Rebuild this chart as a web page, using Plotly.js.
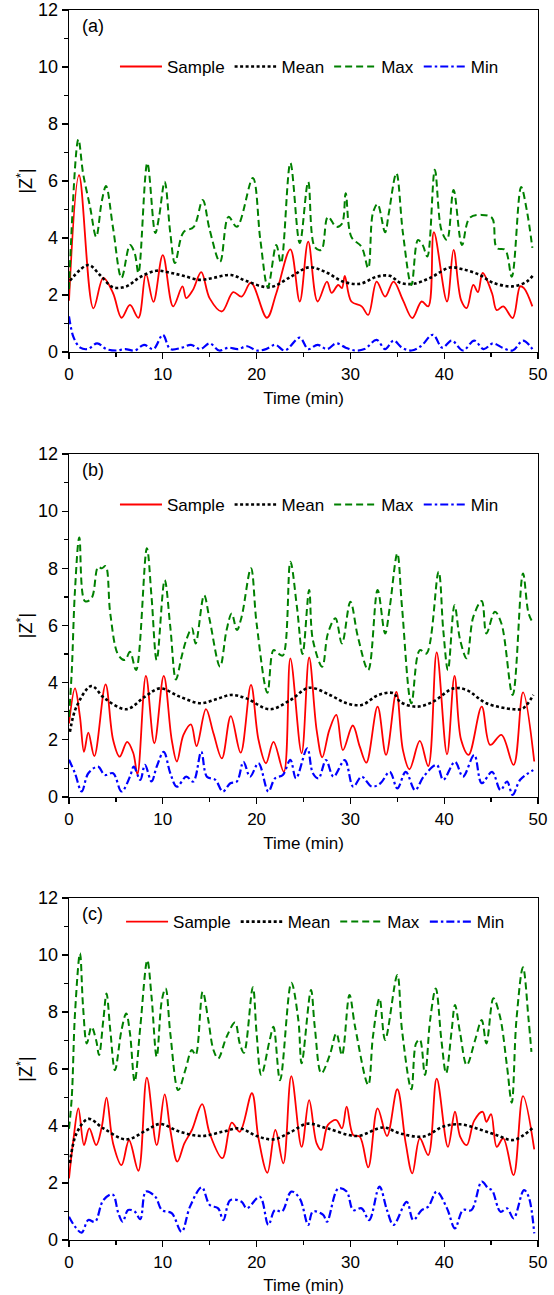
<!DOCTYPE html>
<html><head><meta charset="utf-8">
<script src="https://cdn.plot.ly/plotly-3.0.1.min.js"></script>
<style>html,body{margin:0;padding:0;background:#fff;}#chart{width:554px;height:1295px;}</style>
</head><body><div id="chart"></div>
<script>
const seriesNames = ['Sample', 'Mean', 'Max', 'Min'];
const panelLabels = ['(a)', '(b)', '(c)'];
const xTitle = 'Time (min)';
const yTitle = '|Z<sup>*</sup>|';

// ---- panel (a)
const aSampleX = [0,1.07,2.6,3.66,4.7,5.6,6.5,7.4,8.2,9.0,10.0,11.1,12.1,12.5,13.2,14.1,15.0,16.3,17.5,18.4,19.4,21.1,22.1,23.6,24.6,25.5,26.5,27.5,28.0,28.7,29.1,29.4,30.1,31.2,31.9,32.8,33.7,34.6,35.6,36.6,37.6,38.3,38.9,40.3,41.0,41.8,42.4,43.1,43.6,44.1,45.1,45.6,46.3,47.3,48.1,48.5,49.4];
const aSampleY = [1.8,6.2,1.53,2.6,2.06,1.2,1.65,1.2,2.74,1.76,3.4,1.6,2.3,1.89,2.17,2.8,1.88,1.42,2.1,1.94,2.43,1.2,2.06,3.6,1.77,3.87,1.77,2.47,2.07,2.35,2.24,2.67,1.77,1.6,1.3,2.47,1.94,2.47,1.82,1.19,1.77,1.6,4.2,1.77,3.58,1.82,1.54,2.35,2.1,2.77,2.06,1.47,1.6,1.19,2.3,2.24,1.6];
const aMeanX = [0.1,2.06,3.3,4.7,6.1,7.6,9.3,10.8,12.2,14.0,15.4,17.3,18.9,21.4,23.6,25.6,27.5,29.2,31.0,32.8,34.2,35.3,36.7,38.5,40.6,42.0,43.8,45.2,47.3,48.8,49.5];
const aMeanY = [2.5,3.05,2.7,2.27,2.3,2.63,2.85,2.78,2.67,2.53,2.6,2.7,2.49,2.27,2.63,2.97,2.78,2.47,2.39,2.64,2.67,2.43,2.39,2.6,2.96,2.9,2.7,2.43,2.3,2.47,2.7];
const aMaxX = [0,1.0,1.5,2.24,2.9,3.5,3.95,4.7,5.6,6.5,7.0,7.4,8.35,9.2,9.6,10.2,10.8,11.3,12.2,13.3,14.25,15.0,16.1,17.0,17.9,19.6,20.4,21.2,22.1,22.6,23.6,24.6,25.5,26.2,26.9,27.6,28.5,29.1,29.5,30.1,31.2,31.9,32.4,32.9,33.7,34.1,34.9,35.6,36.5,37.2,37.7,38.2,39.0,39.7,40.3,41.0,41.9,42.7,44.0,45.1,45.6,46.5,47.2,48.2,48.8,49.4];
const aMaxY = [2.2,7.46,6.27,5.1,4.04,5.3,5.82,4.34,2.6,3.75,3.47,2.77,6.63,4.17,4.74,5.97,4.17,3.12,4.2,4.39,5.33,4.28,3.16,4.74,4.39,6.1,3.93,2.28,3.75,3.12,6.63,3.82,5.97,3.68,3.58,4.74,4.39,4.5,5.57,4.04,3.68,2.94,4.88,5.19,4.2,4.88,6.27,4.17,2.35,3.93,3.75,3.35,6.39,4.28,3.93,5.68,3.75,4.7,4.81,4.7,3.65,3.58,2.64,5.79,4.98,3.65];
const aMinX = [0,0.5,1.2,2,3,4,5,6,7,8,9,10,10.8,12,13,14,15,16,17,18,19,20,21,22,23,24.6,25.5,26.5,27.5,28.5,29.5,30.5,31.5,32.8,33.7,34.6,35.5,36.5,37.5,38.8,39.8,40.8,42,43.2,44.2,45.2,46.2,47.3,48.4,49.4];
const aMinY = [1.25,0.5,0.15,0.1,0.3,0.1,0.05,0.1,0.05,0.25,0.1,0.6,0.1,0.15,0.25,0.1,0.3,0.05,0.15,0.1,0.2,0.05,0.1,0.25,0.05,0.5,0.1,0.25,0.1,0.3,0.15,0.05,0.1,0.42,0.1,0.4,0.15,0.05,0.2,0.6,0.15,0.4,0.05,0.4,0.1,0.3,0.15,0.05,0.4,0.1];

// ---- panel (b)
const bSampleX = [0,0.64,1.17,1.6,2.06,2.7,3.9,4.7,5.4,6.2,6.85,7.3,8.2,9.1,10.1,10.95,11.5,12.2,13.0,13.6,14.6,15.4,16.3,17.25,18.3,19.4,20.2,21.0,21.8,22.9,23.6,24.8,25.6,26.4,27.0,27.75,28.5,29.2,30.25,31.0,31.7,32.9,33.8,34.9,35.6,36.3,37.4,38.3,39.2,40.3,41.1,41.8,42.6,44.0,44.9,46.1,47.4,48.4,49.6];
const bSampleY = [2.57,3.8,2.8,1.58,2.25,1.43,3.94,2.0,1.41,1.93,1.54,0.8,4.24,1.88,4.24,2.0,1.24,2.17,2.54,1.78,3.07,2.23,1.35,2.83,1.55,3.92,2.0,1.18,1.93,0.88,4.85,1.53,4.88,2.34,1.39,2.34,2.87,1.64,2.5,1.76,1.2,3.16,1.47,3.68,1.64,0.97,1.96,1.08,5.06,1.49,4.24,2.0,1.47,3.16,1.82,2.17,1.12,3.66,1.24];
const bMeanX = [0.1,0.8,2.4,3.8,6.1,8.1,9.7,11.8,14.0,15.7,17.3,18.9,21.4,23.6,25.6,27.8,29.6,31.2,33.0,34.6,35.3,37.1,38.8,41.0,42.4,44.5,47.4,48.4,49.5];
const bMeanY = [2.28,3.16,3.88,3.45,3.07,3.51,3.8,3.51,3.28,3.42,3.57,3.45,3.07,3.39,3.82,3.57,3.28,3.22,3.57,3.63,3.33,3.16,3.33,3.8,3.74,3.28,3.07,3.1,3.57];
const bMaxX = [0,0.3,0.64,1.1,1.7,2.4,3.1,3.5,3.9,4.4,5.25,5.97,6.5,7.15,8.3,8.8,9.35,10.2,10.8,11.4,12.0,12.5,13.1,13.5,14.4,15.0,16.1,16.8,17.35,17.9,18.4,19.4,20.0,21.15,21.8,22.3,22.8,23.6,24.3,24.9,25.6,26.0,27.0,27.6,28.4,29.1,30.0,30.8,31.9,32.9,33.7,34.2,35.0,35.5,36.5,37.4,38.1,39.4,39.9,40.4,41.1,41.7,42.4,43.1,44.0,44.5,45.4,46.1,47.3,48.4,49.0,49.5];
const bMaxY = [2.8,4.44,7.24,9.08,6.85,6.95,8.05,8.0,8.08,6.42,4.97,4.79,5.08,4.44,8.7,7.0,4.79,7.59,5.95,4.11,4.9,5.49,5.9,5.37,7.06,6.19,4.56,5.84,6.42,5.84,6.3,8.0,6.07,3.65,5.14,5.02,4.95,8.23,6.65,5.0,7.24,5.49,4.56,5.72,6.25,5.37,6.83,5.6,4.44,7.24,5.72,6.65,8.52,6.65,3.28,5.14,5.02,7.88,5.84,4.44,6.71,5.49,4.85,6.3,6.86,5.72,6.48,6.07,3.57,7.82,6.42,6.07];
const bMinX = [0,0.64,1.35,2.06,3.1,3.8,4.7,5.6,6.5,6.9,7.6,8.1,8.8,9.35,10.1,10.8,11.5,12.5,13.25,14.1,14.7,15.6,16.4,17.2,17.9,18.6,19.3,20.2,21.25,21.96,22.8,23.6,24.2,25.4,26.0,26.6,27.4,28.2,29.4,30.3,31.2,32.3,33.2,34.2,35.0,35.9,36.9,37.8,39.2,39.9,41.15,42.0,43.2,44.0,45.1,46.0,46.7,47.3,48.1,49.5];
const bMinY = [1.3,0.83,0.19,0.83,1.06,0.77,0.83,0.19,0.71,1.06,0.6,1.12,0.54,1.06,1.58,0.83,0.36,0.71,0.54,1.58,0.71,0.6,0.19,0.48,0.54,1.23,0.71,1.18,0.19,0.65,0.77,1.3,0.65,1.7,0.83,0.65,1.29,0.71,1.29,0.36,0.71,0.36,0.48,0.88,0.3,0.88,0.24,0.71,1.12,0.6,1.23,0.71,1.47,0.48,0.88,0.24,0.54,0.07,0.6,0.94];

// ---- panel (c)
const cSampleX = [0,0.46,1.0,1.6,2.16,2.9,3.5,4.0,4.7,5.6,6.4,7.4,8.3,9.35,10.2,10.8,11.55,12.3,13.1,14.2,15.0,16.35,17.35,18.2,19.5,20.2,21.15,22.0,22.85,23.7,24.8,25.6,26.4,26.9,27.6,28.5,29.1,29.6,30.3,31.0,31.9,32.9,33.9,35.0,35.9,36.6,37.4,38.3,39.2,40.4,41.15,41.7,42.4,43.2,44.1,44.5,45.0,45.6,46.3,47.4,48.4,49.6];
const cSampleY = [2.16,3.5,4.62,3.33,3.92,3.33,3.98,5.0,3.39,2.63,3.5,2.43,5.7,3.33,5.11,3.86,2.75,3.39,3.86,4.77,3.74,2.87,4.12,3.8,5.15,3.57,2.36,3.86,2.69,5.75,3.27,4.91,3.39,3.16,4.04,4.21,3.92,4.68,3.68,3.63,2.55,4.62,3.65,5.29,3.39,2.34,3.57,2.98,5.66,3.27,4.5,3.63,3.33,4.19,4.5,4.15,4.42,3.27,3.57,2.28,5.05,3.18];
const cMeanX = [0.1,0.8,2.06,3.66,6.1,8.3,9.7,11.8,14.1,16.4,18.2,20.0,21.8,23.6,25.4,27.5,30.7,33.5,35.3,37.8,39.9,41.7,43.8,45.6,47.4,49.6];
const cMeanY = [2.7,3.74,4.25,3.92,3.53,3.86,4.07,3.8,3.65,3.8,3.92,3.65,3.53,3.78,4.08,3.92,3.65,3.95,3.74,3.63,3.98,4.06,3.88,3.68,3.51,3.98];
const cMaxX = [0,0.3,0.64,1.17,1.5,1.9,2.4,2.9,3.2,3.66,4.0,4.4,4.9,5.6,6.1,6.5,7.0,7.6,8.35,8.8,9.35,9.9,10.3,10.8,11.65,12.4,13.1,13.5,14.25,14.85,15.4,15.9,16.8,17.7,18.2,18.65,19.6,20.0,20.5,21.4,21.8,22.5,23.7,24.45,24.8,25.8,26.2,26.9,27.8,28.5,29.1,29.9,30.5,31.9,32.4,33.1,33.7,35.0,35.5,36.5,37.0,37.4,37.95,38.5,39.1,39.7,40.2,40.8,41.15,41.7,42.4,43.3,44.0,44.5,45.25,45.95,46.7,47.2,47.7,48.4,49.0,49.3];
const cMaxY = [3.9,5.03,7.95,10.06,8.18,6.9,7.48,7.0,6.49,7.72,8.65,7.37,5.96,7.37,7.95,7.25,5.56,7.48,9.82,8.54,6.43,8.42,8.83,7.25,5.26,5.96,6.67,6.49,8.71,7.72,6.67,6.37,7.13,7.63,6.9,6.57,8.87,7.25,5.79,7.02,7.48,5.61,9.03,7.72,6.2,8.77,7.48,5.85,6.49,7.25,6.49,8.6,7.48,5.44,7.13,8.48,7.02,9.3,7.37,5.29,6.9,7.04,5.79,7.72,8.83,7.02,5.85,7.37,8.25,7.25,6.14,7.02,7.72,6.9,8.48,7.84,6.08,4.82,7.72,9.57,7.72,6.6];
const cMinX = [0,0.64,1.35,2.06,2.77,3.66,4.65,5.26,5.72,6.3,7.0,7.6,8.2,9.2,9.9,10.95,12.0,12.9,14.15,15.0,15.9,16.45,17.2,18.4,18.95,20.35,21.25,21.96,22.7,23.7,24.6,25.5,26.0,27.1,27.5,28.7,29.6,30.3,31.2,32.0,33.1,33.9,34.6,36.0,36.7,37.6,38.3,39.2,40.3,41.15,42.0,42.9,44.0,44.7,45.1,46.0,46.7,47.4,48.5,49.0,49.6];
const cMinY = [0.82,0.47,0.26,0.7,0.64,1.4,1.6,0.94,0.64,1.05,1.0,0.73,1.7,1.52,1.05,0.94,0.29,1.17,1.85,1.23,1.11,0.7,1.4,1.34,1.11,1.52,0.53,1.05,1.0,1.7,1.46,0.53,1.0,0.88,0.64,1.81,1.7,1.05,1.11,0.7,1.87,1.05,0.53,1.34,0.7,1.05,1.17,1.7,1.11,0.41,1.05,1.05,2.05,1.81,1.75,0.99,1.11,0.76,1.75,1.52,0.23];

const panels = [
  [[aSampleX,aSampleY],[aMeanX,aMeanY],[aMaxX,aMaxY],[aMinX,aMinY]],
  [[bSampleX,bSampleY],[bMeanX,bMeanY],[bMaxX,bMaxY],[bMinX,bMinY]],
  [[cSampleX,cSampleY],[cMeanX,cMeanY],[cMaxX,cMaxY],[cMinX,cMinY]]
];

const styles = [
  {color:'#ff0000', width:1.8, dash:'solid'},
  {color:'#000000', width:2.6, dash:'3px,2.5px'},
  {color:'#008000', width:2.0, dash:'7px,4px'},
  {color:'#0000ff', width:2.2, dash:'8px,3px,2.5px,3px'}
];

const FONT = 'Arial, "Liberation Sans", sans-serif';
const traces = [];
const suffix = ['', '2', '3'];
const legendIds = ['legend', 'legend2', 'legend3'];
panels.forEach((series, p) => {
  series.forEach((s, i) => {
    traces.push({
      type:'scatter', mode:'lines', x:s[0], y:s[1], name:seriesNames[i],
      xaxis:'x'+suffix[p], yaxis:'y'+suffix[p], legend:legendIds[p],
      line:Object.assign({shape:'spline', smoothing:1}, styles[i]),
      showlegend:true, hoverinfo:'skip'
    });
  });
});

const domains = [[0.722, 1], [0.3602, 0.639], [0, 0.278]];
const legendY = [0.9537, 0.5976, 0.2585];
const legendX = [0.098, 0.098, 0.111];

function xAxis(p) {
  return {
    domain:[0,1], anchor:'y'+suffix[p], range:[0,50], tick0:0, dtick:10,
    ticks:'outside', ticklen:6, tickwidth:1.3, tickcolor:'#000',
    showline:true, linecolor:'#000', linewidth:1.3, mirror:true,
    showgrid:false, zeroline:false,
    tickfont:{family:FONT, size:17, color:'#000'},
    minor:{dtick:5, tick0:0, ticks:'outside', ticklen:4, tickwidth:1.3, tickcolor:'#000', showgrid:false},
    title:{text:xTitle, font:{family:FONT, size:17, color:'#000'}, standoff:9}
  };
}
function yAxis(p) {
  return {
    domain:domains[p], anchor:'x'+suffix[p], range:[0,12], tick0:0, dtick:2,
    ticks:'outside', ticklen:6, tickwidth:1.3, tickcolor:'#000',
    showline:true, linecolor:'#000', linewidth:1.3, mirror:true,
    showgrid:false, zeroline:false,
    tickfont:{family:FONT, size:18, color:'#000'},
    minor:{dtick:1, tick0:0, ticks:'outside', ticklen:4, tickwidth:1.3, tickcolor:'#000', showgrid:false},
    title:{text:yTitle, font:{family:FONT, size:18, color:'#000'}, standoff:0}
  };
}

const layout = {
  width:554, height:1295,
  margin:{l:69, r:16, t:10, b:55},
  paper_bgcolor:'#fff', plot_bgcolor:'#fff',
  font:{family:FONT, color:'#000'},
  annotations:[]
};
for (let p = 0; p < 3; p++) {
  layout['xaxis'+suffix[p]] = xAxis(p);
  layout['yaxis'+suffix[p]] = yAxis(p);
  layout[legendIds[p]] = {
    orientation:'h', x:legendX[p], y:legendY[p], xanchor:'left', yanchor:'middle',
    xref:'paper', yref:'paper', bgcolor:'rgba(0,0,0,0)', borderwidth:0,
    font:{family:FONT, size:17, color:'#000'}, itemwidth:42
  };
  layout.annotations.push({
    text:panelLabels[p], xref:'x'+suffix[p]+' domain', yref:'y'+suffix[p]+' domain',
    x:0.024, y:0.952, xanchor:'left', yanchor:'middle', showarrow:false,
    font:{family:FONT, size:18, color:'#000'}
  });
}

Plotly.newPlot('chart', traces, layout, {displayModeBar:false, staticPlot:true});
</script>
</body></html>
